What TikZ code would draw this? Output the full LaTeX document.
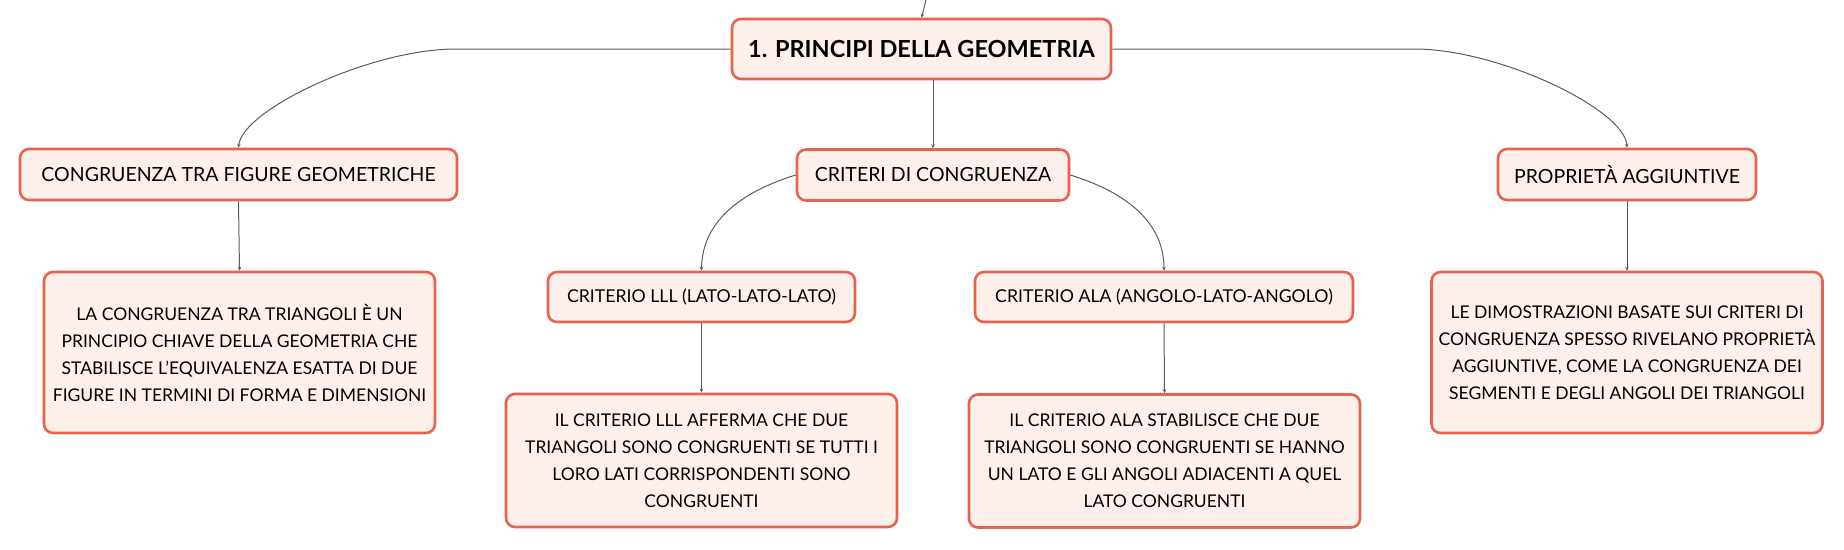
\documentclass[tikz,border=0pt]{standalone}
\usepackage{fontspec}
\setmainfont{Lato}
\usetikzlibrary{arrows.meta}
\definecolor{boxred}{HTML}{E8634F}
\definecolor{boxfill}{HTML}{FDF0EB}
\definecolor{wire}{HTML}{5C5C5C}
\tikzstyle{box}=[draw=boxred, fill=boxfill, line width=2.6pt, rounded corners=9pt, align=center, inner sep=0]
\tikzstyle{root}=[box, minimum width=379pt, minimum height=60pt, font=\fontsize{23.5}{28}\selectfont\bfseries]
\tikzstyle{topic}=[box, minimum height=51pt, font=\fontsize{19.5}{24}\selectfont]
\tikzstyle{sub}=[box, minimum height=50pt, font=\fontsize{17.7}{22}\selectfont]
\tikzstyle{note}=[box, minimum width=391pt, font=\fontsize{17.5}{27}\selectfont]
\tikzstyle{link}=[draw=wire, line width=1pt, -{Stealth[length=4pt,width=3.5pt]}]

\begin{document}
\begin{tikzpicture}[x=1pt, y=-1pt]
    \useasboundingbox (0,0) rectangle (1844,549);
    % top row
    \node[root] (root) at (921.5,49) {1. PRINCIPI DELLA GEOMETRIA};
    \coordinate (up) at (926,0);
    % second row
    \node[topic, minimum width=437pt] (cong) at (238.5,174.5) {CONGRUENZA TRA FIGURE GEOMETRICHE};
    \node[topic, minimum width=272pt] (crit) at (933,175) {CRITERI DI CONGRUENZA};
    \node[topic, minimum width=258pt] (prop) at (1627,174.5) {PROPRIETÀ AGGIUNTIVE};
    % criteri
    \node[sub, minimum width=307pt] (lll) at (701.5,297) {CRITERIO LLL (LATO-LATO-LATO)};
    \node[sub, minimum width=378pt] (ala) at (1164,297) {CRITERIO ALA (ANGOLO-LATO-ANGOLO)};
    % notes
    \node[note, minimum height=161pt] (congt) at (239.5,352.5) {LA CONGRUENZA TRA TRIANGOLI È UN\\
        PRINCIPIO CHIAVE DELLA GEOMETRIA CHE\\
        STABILISCE L'EQUIVALENZA ESATTA DI DUE\\
        FIGURE IN TERMINI DI FORMA E DIMENSIONI};
    \node[note, minimum height=133pt] (lllt) at (701.5,460.5) {IL CRITERIO LLL AFFERMA CHE DUE\\
        TRIANGOLI SONO CONGRUENTI SE TUTTI I\\
        LORO LATI CORRISPONDENTI SONO\\
        CONGRUENTI};
    \node[note, minimum height=133pt] (alat) at (1164.5,461) {IL CRITERIO ALA STABILISCE CHE DUE\\
        TRIANGOLI SONO CONGRUENTI SE HANNO\\
        UN LATO E GLI ANGOLI ADIACENTI A QUEL\\
        LATO CONGRUENTI};
    \node[note, minimum height=161pt] (propt) at (1627,352.5) {LE DIMOSTRAZIONI BASATE SUI CRITERI DI\\
        CONGRUENZA SPESSO RIVELANO PROPRIETÀ\\
        AGGIUNTIVE, COME LA CONGRUENZA DEI\\
        SEGMENTI E DEGLI ANGOLI DEI TRIANGOLI};

    % connectors
    \draw[link] (up) .. controls (924,8) .. (root.north);
    \draw[link] (root.west) -- (456,49) .. controls (370,49) and (242,110) .. (cong.north);
    \draw[link] (root.east) -- (1414,49) .. controls (1500,49) and (1625,110) .. (prop.north);
    \draw[link] (root.south -| crit.north) -- (crit.north);
    \draw[link] (crit.west) .. controls (747,190) and (702,218) .. (lll.north);
    \draw[link] (crit.east) .. controls (1119,190) and (1164,218) .. (ala.north);
    \draw[link] (cong.south) -- (congt.north);
    \draw[link] (lll.south) -- (lllt.north);
    \draw[link] (ala.south) -- (alat.north);
    \draw[link] (prop.south) -- (propt.north);
\end{tikzpicture}
\end{document}
